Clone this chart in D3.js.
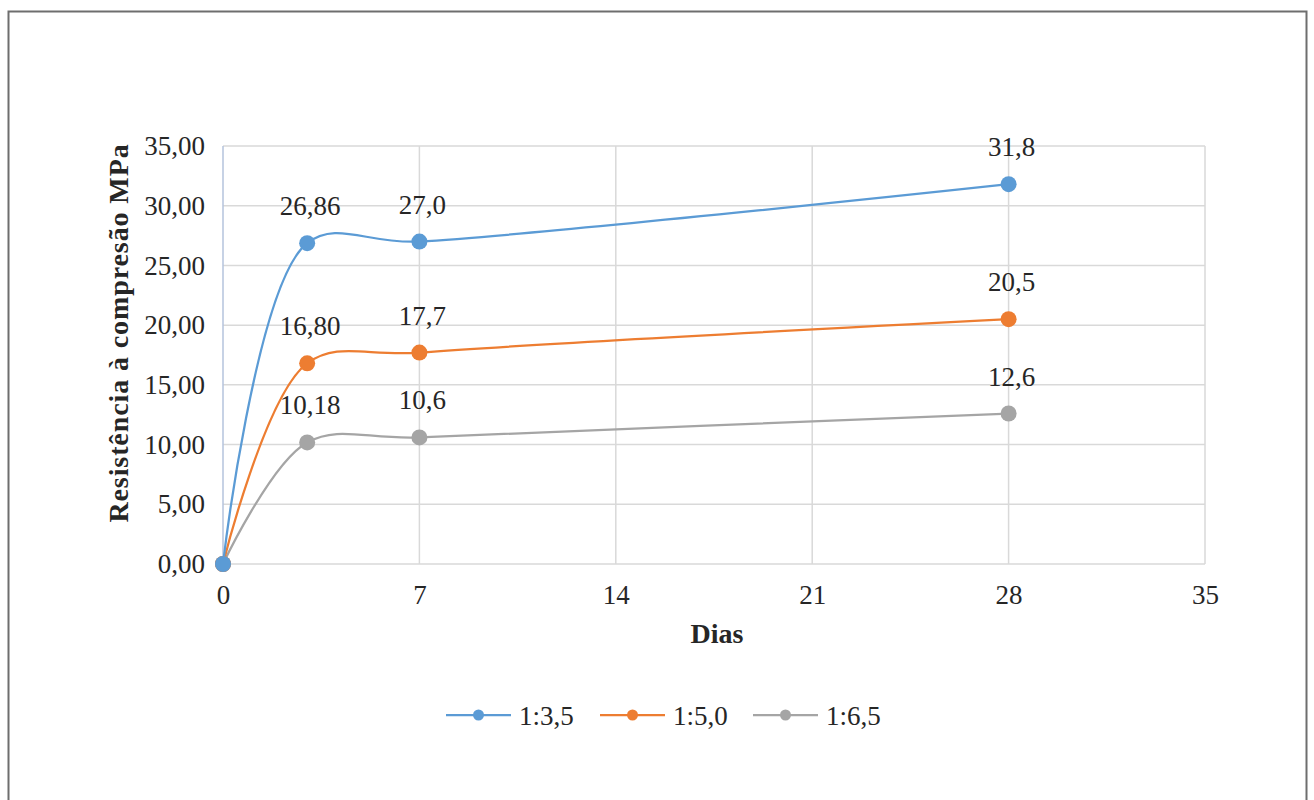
<!DOCTYPE html>
<html>
<head>
<meta charset="utf-8">
<script src="https://cdn.jsdelivr.net/npm/d3@7"></script>
<style>
  html, body { margin: 0; padding: 0; background: #fff; }
  svg { display: block; }
</style>
</head>
<body>
<svg id="chart" width="1314" height="800"></svg>
<script>
// Compressive strength by age, three mix ratios
const days = [0, 3, 7, 28];
const seriesNames = ["1:3,5", "1:5,0", "1:6,5"];
const mix35 = [0, 26.86, 27.0, 31.8];
const mix50 = [0, 16.80, 17.7, 20.5];
const mix65 = [0, 10.18, 10.6, 12.6];
const labels35 = ["", "26,86", "27,0", "31,8"];
const labels50 = ["", "16,80", "17,7", "20,5"];
const labels65 = ["", "10,18", "10,6", "12,6"];
const xTicks = [0, 7, 14, 21, 28, 35];
const yTicks = [0, 5, 10, 15, 20, 25, 30, 35];
const colors = ["#5b9bd5", "#ed7d31", "#a5a5a5"];

const series = [
  { name: seriesNames[0], values: mix35, labels: labels35, color: colors[0] },
  { name: seriesNames[1], values: mix50, labels: labels50, color: colors[1] },
  { name: seriesNames[2], values: mix65, labels: labels65, color: colors[2] }
];

const svg = d3.select("#chart");
const font = "'Liberation Serif', 'Times New Roman', serif";
const fs = 27;

// outer frame (open at the bottom)
svg.append("path")
  .attr("d", "M8.5,800 L8.5,11.5 L1306.5,11.5 L1306.5,800")
  .attr("fill", "none").attr("stroke", "#6e6e6e").attr("stroke-width", 2);

const x = d3.scaleLinear().domain([0, 35]).range([223, 1205]);
const y = d3.scaleLinear().domain([0, 35]).range([564, 146]);

// gridlines
const grid = svg.append("g");
grid.selectAll("line.h").data(yTicks).join("line")
  .attr("x1", x(0)).attr("x2", x(35))
  .attr("y1", d => y(d)).attr("y2", d => y(d))
  .attr("stroke", "#d9d9d9").attr("stroke-width", 1.5);
grid.selectAll("line.v").data(xTicks.slice(1)).join("line")
  .attr("y1", y(0)).attr("y2", y(35))
  .attr("x1", d => x(d)).attr("x2", d => x(d))
  .attr("stroke", "#d9d9d9").attr("stroke-width", 1.5);

// vertical axis line
svg.append("line")
  .attr("x1", x(0)).attr("x2", x(0)).attr("y1", y(0)).attr("y2", y(35))
  .attr("stroke", "#b4c3dc").attr("stroke-width", 1.5);

// axes tick labels
const fmtY = d => d3.format(".2f")(d).replace(".", ",");
const yAxis = d3.axisLeft(y).tickValues(yTicks).tickFormat(fmtY).tickSize(0).tickPadding(18);
const gy = svg.append("g").attr("transform", `translate(${x(0)},0)`).call(yAxis);
gy.select(".domain").remove();
gy.selectAll("text").attr("font-family", font).attr("font-size", fs).attr("fill", "#262626");

const xAxis = d3.axisBottom(x).tickValues(xTicks).tickFormat(d3.format("d")).tickSize(0).tickPadding(21);
const gx = svg.append("g").attr("transform", `translate(0,${y(0)})`).call(xAxis);
gx.select(".domain").remove();
gx.selectAll("text").attr("font-family", font).attr("font-size", fs).attr("fill", "#262626");

// axis titles
svg.append("text")
  .attr("transform", "translate(128,333) rotate(-90)")
  .attr("text-anchor", "middle")
  .attr("font-family", font).attr("font-size", 28).attr("font-weight", "bold")
  .attr("letter-spacing", 0.9)
  .attr("fill", "#262626")
  .text("Resistência à compresão MPa");
svg.append("text")
  .attr("x", 717).attr("y", 643)
  .attr("text-anchor", "middle")
  .attr("font-family", font).attr("font-size", 28).attr("font-weight", "bold")
  .attr("fill", "#262626")
  .text("Dias");

// smoothed lines
const line = d3.line()
  .x((d, i) => x(days[i]))
  .y(d => y(d))
  .curve(d3.curveCatmullRom.alpha(0.5));

const gs = svg.append("g");
series.slice().reverse().forEach(s => {
  gs.append("path")
    .attr("d", line(s.values))
    .attr("fill", "none").attr("stroke", s.color).attr("stroke-width", 2.25);
});
series.slice().reverse().forEach(s => {
  gs.selectAll(null).data(s.values).join("circle")
    .attr("cx", (d, i) => x(days[i])).attr("cy", d => y(d))
    .attr("r", 8).attr("fill", s.color);
});

// data labels
series.forEach(s => {
  gs.selectAll(null).data(s.values).join("text")
    .attr("x", (d, i) => x(days[i]) + 3)
    .attr("y", d => y(d) - 28)
    .attr("text-anchor", "middle")
    .attr("font-family", font).attr("font-size", fs).attr("fill", "#262626")
    .text((d, i) => s.labels[i]);
});

// legend
const legendX = [446, 600, 753];
const lg = svg.append("g");
series.forEach((s, i) => {
  const g = lg.append("g").attr("transform", `translate(${legendX[i]},715)`);
  g.append("line").attr("x1", 0).attr("x2", 65).attr("y1", 0).attr("y2", 0)
    .attr("stroke", s.color).attr("stroke-width", 2.25);
  g.append("circle").attr("cx", 32.5).attr("cy", 0).attr("r", 5.5).attr("fill", s.color);
  g.append("text").attr("x", 73).attr("y", 10)
    .attr("font-family", font).attr("font-size", fs).attr("fill", "#262626")
    .text(s.name);
});
</script>
</body>
</html>
